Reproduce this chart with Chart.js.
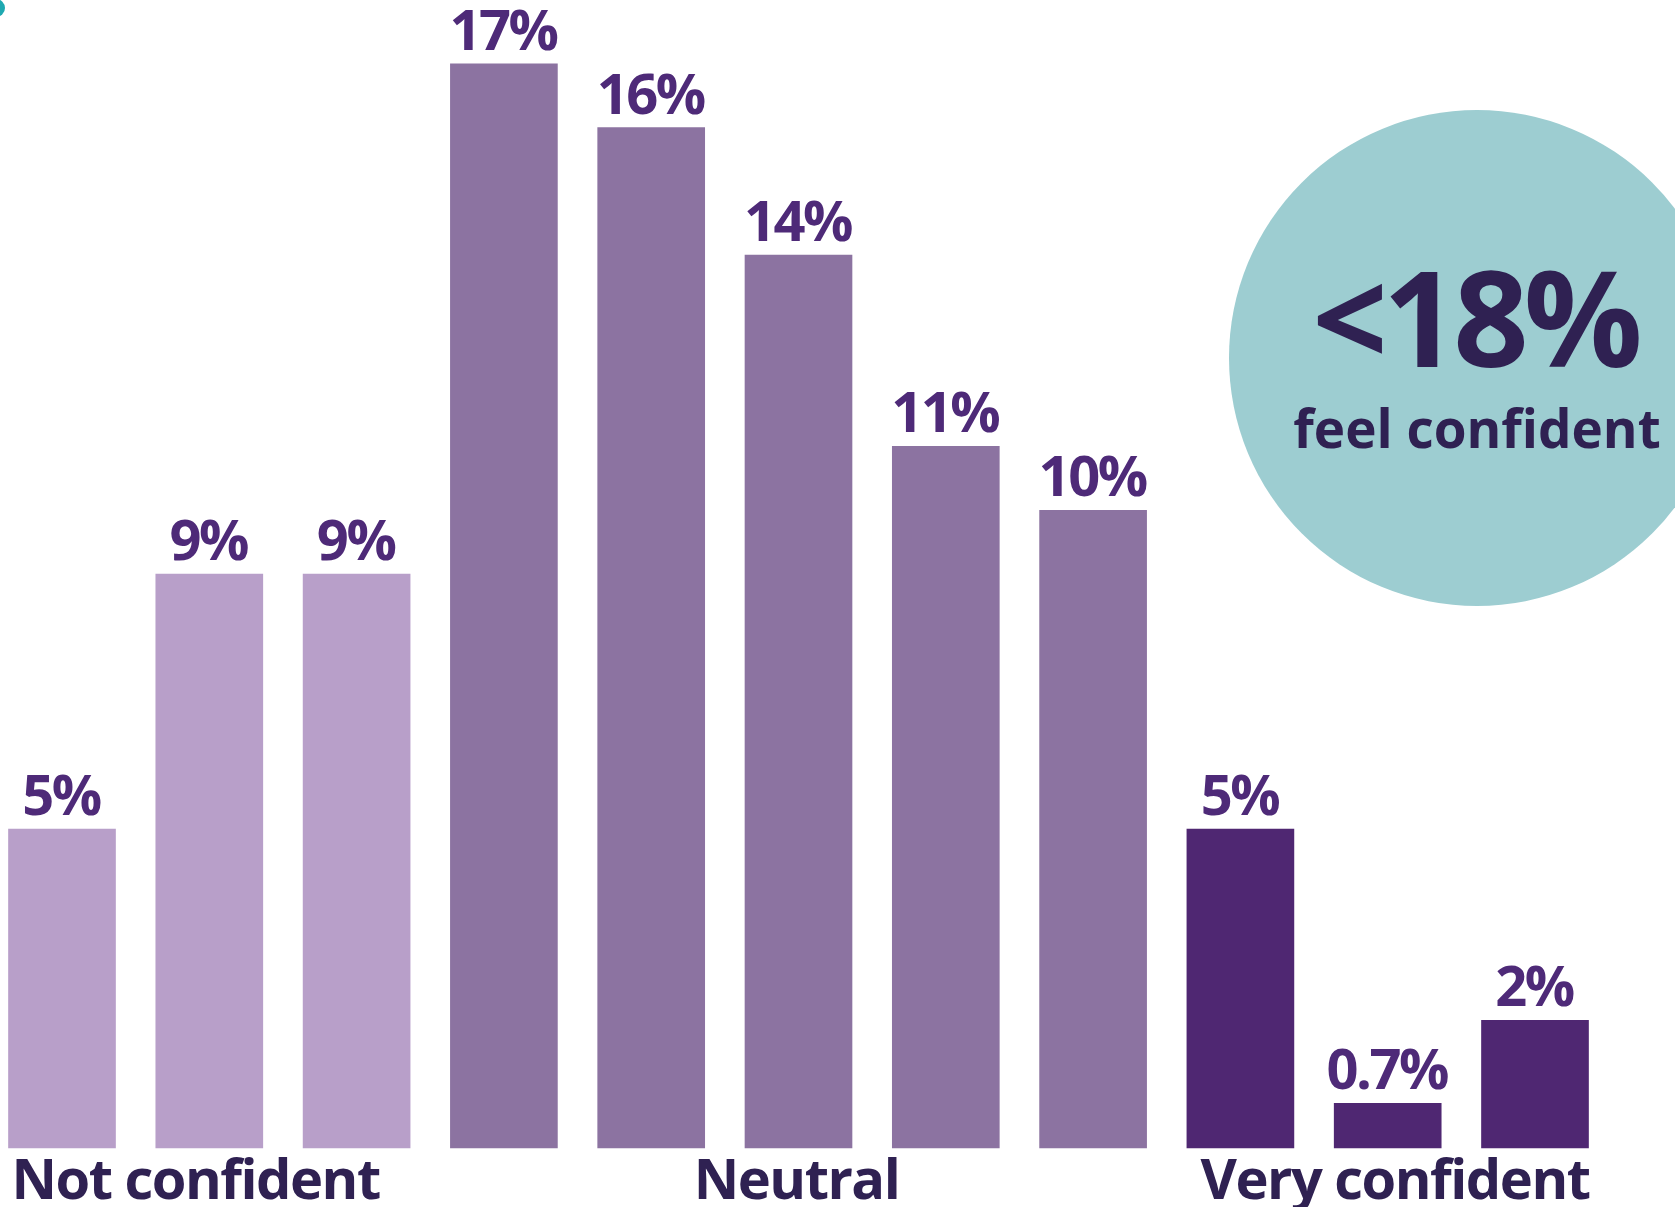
<!DOCTYPE html>
<html>
<head>
<meta charset="utf-8">
<script src="https://cdn.jsdelivr.net/npm/chart.js@4"></script>
<style>
  html, body { margin: 0; padding: 0; background: #fff; }
  #wrap { width: 1675px; height: 1207px; position: relative; }
</style>
</head>
<body>
<div id="wrap"><canvas id="canvas"></canvas></div>
<script>
// confidence scale, 1 (not confident) .. 11 (very confident)
const scalePoints = ['1', '2', '3', '4', '5', '6', '7', '8', '9', '10', '11'];
const shares = [5, 9, 9, 17, 16, 14, 11, 10, 5, 0.7, 2];
const barColors = [
    '#b89fc9', '#b89fc9', '#b89fc9',
    '#8c73a1', '#8c73a1', '#8c73a1', '#8c73a1', '#8c73a1',
    '#4f2772', '#4f2772', '#4f2772'
];
const groupNames = ['Not confident', 'Neutral', 'Very confident'];
const calloutValue = '<18%';
const calloutText = 'feel confident';

const FONT = '"Open Sans", "Noto Sans", sans-serif';
const labelColor = '#4e2a78';
const darkText = '#2f2152';

// teal bubble on the right plus the small dot in the corner
const bubblePlugin = {
    id: 'bubble',
    beforeDraw(chart) {
        const ctx = chart.ctx;
        ctx.save();
        ctx.fillStyle = '#1fa9b1';
        ctx.beginPath();
        ctx.arc(-4, 8, 9, 0, Math.PI * 2);
        ctx.fill();

        ctx.fillStyle = '#9dcdd1';
        ctx.beginPath();
        ctx.arc(1477, 358, 248, 0, Math.PI * 2);
        ctx.fill();

        ctx.fillStyle = darkText;
        ctx.textAlign = 'center';
        ctx.textBaseline = 'alphabetic';
        ctx.font = '700 132px ' + FONT;
        ctx.letterSpacing = '-5px';
        ctx.fillText(calloutValue, 1475, 367);
        ctx.letterSpacing = '0px';
        ctx.font = '700 53px ' + FONT;
        ctx.fillText(calloutText, 1477, 448);
        ctx.restore();
    }
};

// percentage over each bar and the group names under the axis
const labelPlugin = {
    id: 'barLabels',
    afterDatasetsDraw(chart) {
        const ctx = chart.ctx;
        const bars = chart.getDatasetMeta(0).data;
        ctx.save();
        ctx.fillStyle = labelColor;
        ctx.font = '700 56px ' + FONT;
        ctx.letterSpacing = '-2.5px';
        ctx.textAlign = 'center';
        ctx.textBaseline = 'alphabetic';
        bars.forEach(function (bar, i) {
            ctx.fillText(shares[i] + '%', bar.x - 1, bar.y - 14);
        });

        const half = bars[0].width / 2;
        const y = chart.chartArea.bottom + 51;
        ctx.fillStyle = darkText;
        ctx.font = '700 56px ' + FONT;
        ctx.letterSpacing = '-1.5px';
        ctx.textAlign = 'left';
        ctx.fillText(groupNames[0], bars[0].x - half + 3, y);
        ctx.textAlign = 'center';
        ctx.fillText(groupNames[1], bars[5].x - 2, y);
        ctx.textAlign = 'right';
        ctx.fillText(groupNames[2], bars[10].x + half + 1, y);
        ctx.restore();
    }
};

function renderChart() {
    const ctx = document.getElementById('canvas').getContext('2d');
    new Chart(ctx, {
        type: 'bar',
        data: {
            labels: scalePoints,
            datasets: [{
                data: shares,
                backgroundColor: barColors,
                borderWidth: 0,
                barThickness: 107,
                clip: false
            }]
        },
        options: {
            responsive: true,
            maintainAspectRatio: false,
            animation: false,
            layout: { padding: { left: 62, right: 140, top: 0, bottom: 59 } },
            plugins: {
                legend: { display: false },
                tooltip: { enabled: false }
            },
            scales: {
                x: { display: false, offset: false },
                y: { display: false, min: 0, max: 18 }
            }
        },
        plugins: [bubblePlugin, labelPlugin]
    });
}

document.fonts.load('700 56px "Open Sans"').then(renderChart, renderChart);
</script>
</body>
</html>
